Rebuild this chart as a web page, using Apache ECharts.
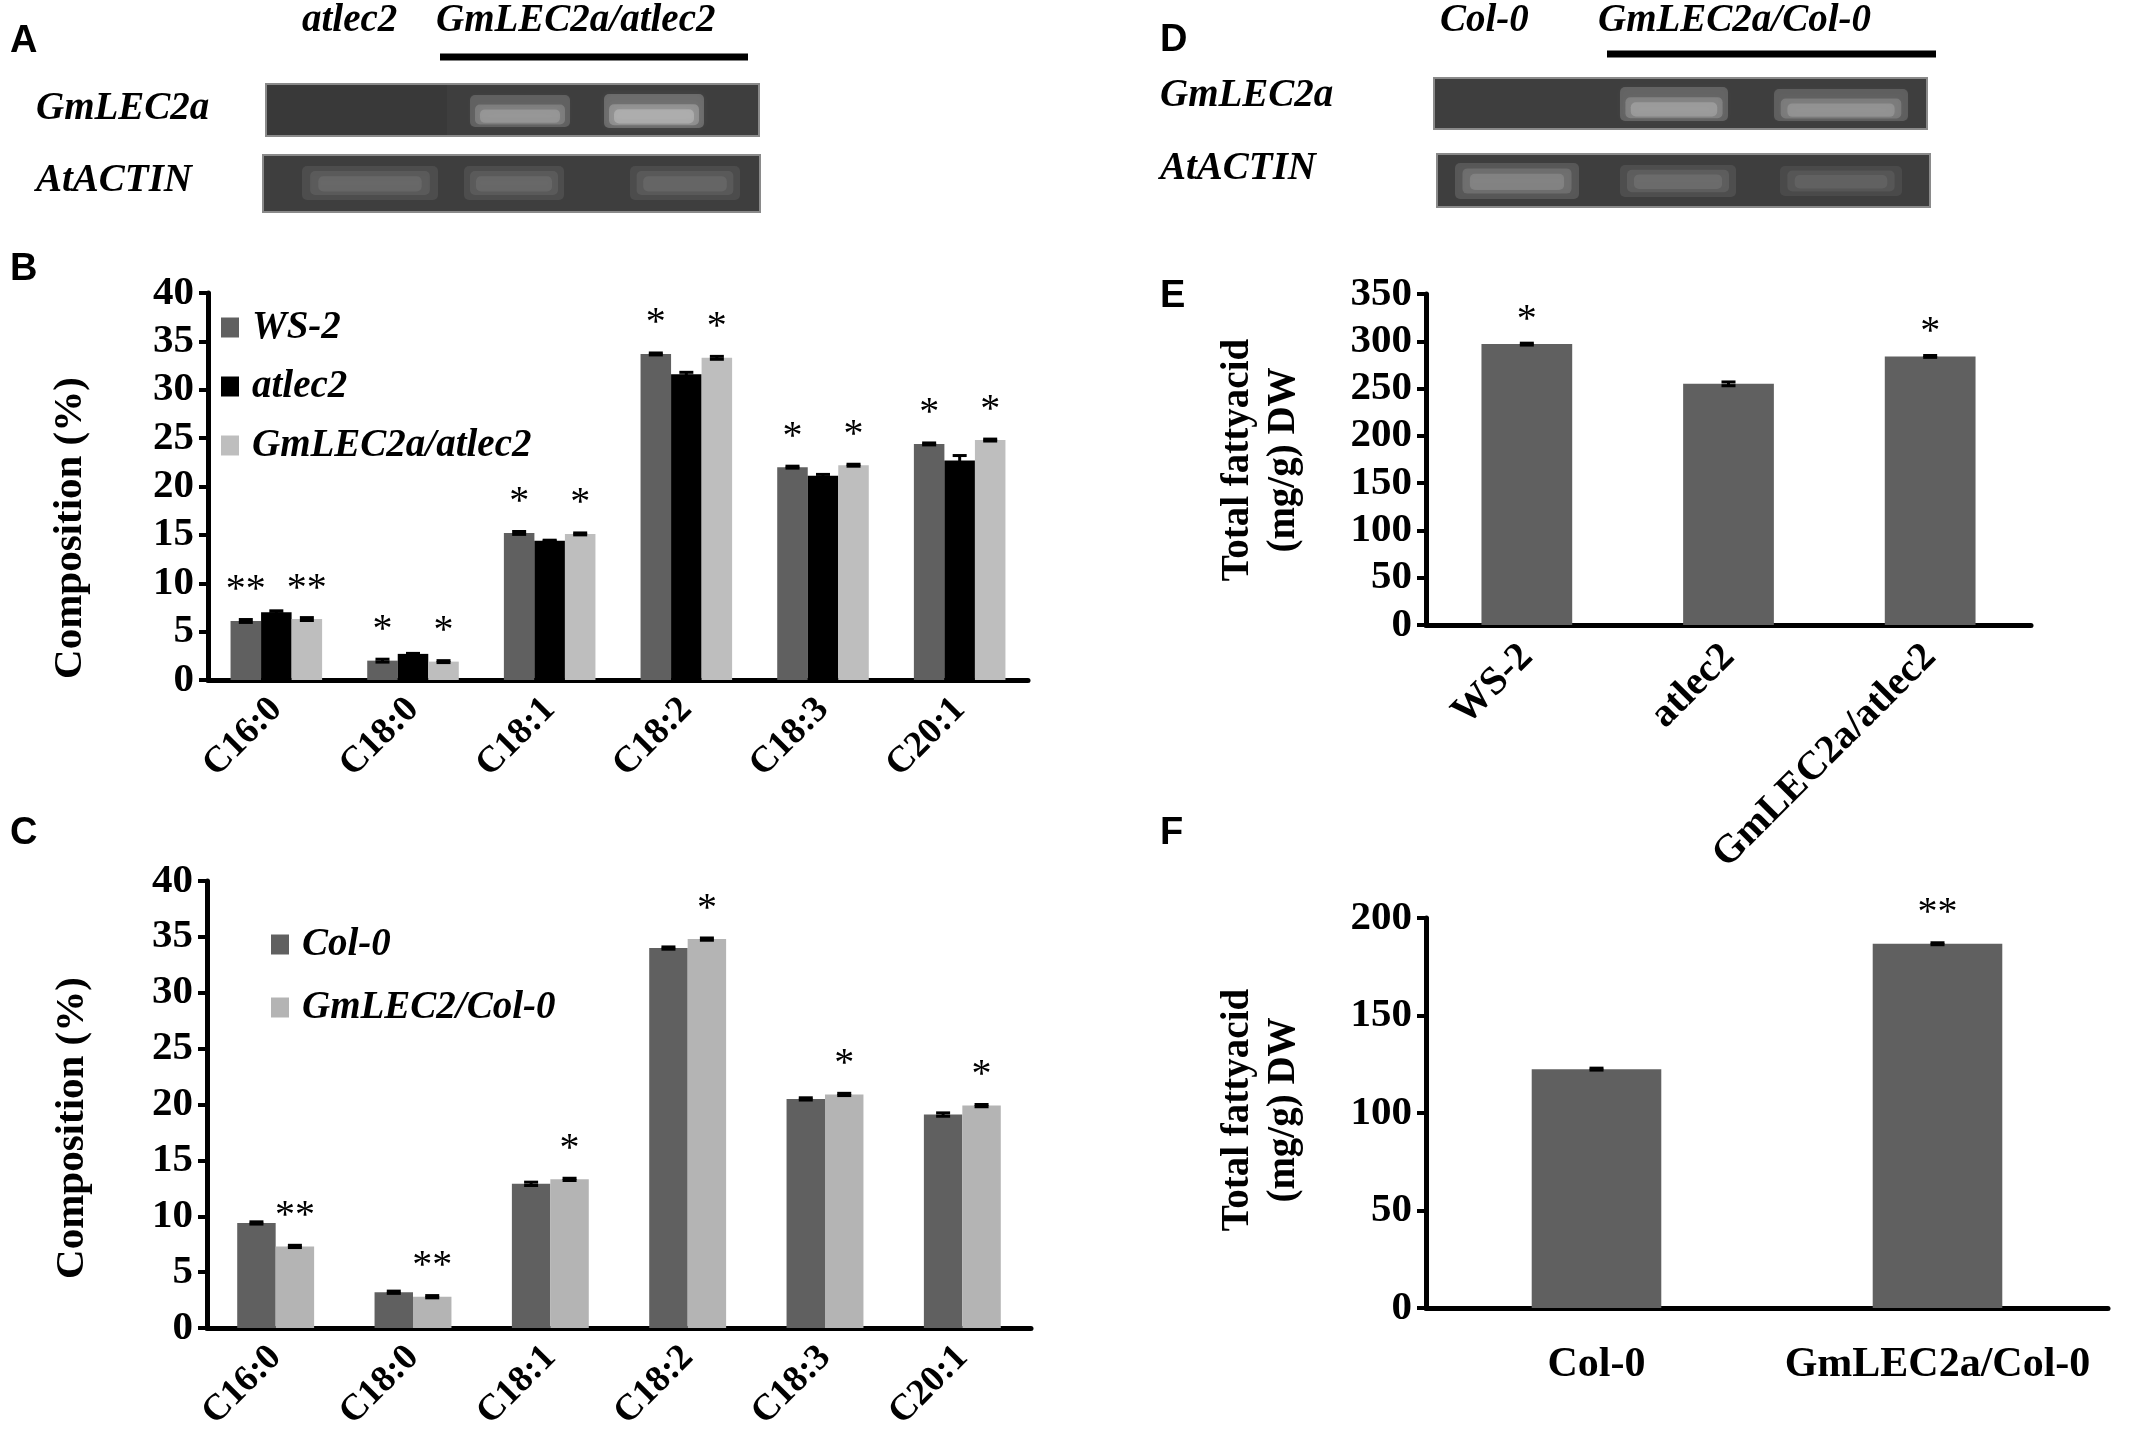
<!DOCTYPE html>
<html>
<head>
<meta charset="utf-8">
<script src="https://cdn.jsdelivr.net/npm/echarts@6/dist/echarts.min.js"></script>
<style>
html, body { margin: 0; padding: 0; background: #fff; }
#main { width: 2136px; height: 1454px; }
</style>
</head>
<body>
<div id="main"></div>
<script>
// ---- panel B: fatty acid composition, WS-2 background
var acids = ['C16:0', 'C18:0', 'C18:1', 'C18:2', 'C18:3', 'C20:1'];
var ws2 = [6.1, 2.0, 15.2, 33.7, 22.0, 24.4];
var ws2Err = [0.15, 0.15, 0.15, 0.1, 0.1, 0.1];
var atlec2 = [7.0, 2.7, 14.4, 31.6, 21.1, 22.7];
var atlec2Err = [0.15, 0.05, 0.05, 0.2, 0.15, 0.5];
var gmAtlec2 = [6.3, 1.9, 15.1, 33.3, 22.2, 24.8];
var gmAtlec2Err = [0.15, 0.1, 0.1, 0.15, 0.1, 0.1];
var sigB = ['**', '*', '*', '*', '*', '*'];

// ---- panel C: fatty acid composition, Col-0 background
var col0 = [9.4, 3.2, 12.9, 34.0, 20.5, 19.1];
var col0Err = [0.1, 0.1, 0.15, 0.1, 0.1, 0.15];
var gmCol0 = [7.3, 2.8, 13.3, 34.8, 20.9, 19.9];
var gmCol0Err = [0.1, 0.1, 0.1, 0.1, 0.1, 0.1];
var sigC = ['**', '**', '*', '*', '*', '*'];

// ---- panel E / F: total fatty acid
var linesE = ['WS-2', 'atlec2', 'GmLEC2a/atlec2'];
var totalE = [297, 255, 284];
var totalEErr = [1, 2, 1];
var sigE = ['*', '', '*'];
var linesF = ['Col-0', 'GmLEC2a/Col-0'];
var totalF = [122.5, 186.8];
var totalFErr = [0.5, 0.5];
var sigF = ['', '**'];

var SERIF = '"Liberation Serif", "Times New Roman", serif';
var SANS = '"Liberation Sans Narrow", "Liberation Sans", Arial, sans-serif';

var myChart = echarts.init(document.getElementById('main'));

function yAx(gi, max, step) {
    return {
        gridIndex: gi, type: 'value', min: 0, max: max, interval: step,
        axisLine: { show: true, lineStyle: { color: '#000', width: 5 } },
        axisTick: { show: true, length: 9, lineStyle: { color: '#000', width: 4 } },
        splitLine: { show: false },
        axisLabel: { color: '#000', fontFamily: SERIF, fontWeight: 'bold', fontSize: 41, margin: 14 }
    };
}

function xAx(gi, cats, rotate, size, margin) {
    return {
        gridIndex: gi, type: 'category', data: cats,
        axisLine: { lineStyle: { color: '#000', width: 5 } },
        axisTick: { length: 14, lineStyle: { color: '#000', width: 4 } },
        axisLabel: { color: '#000', fontFamily: SERIF, fontWeight: 'bold', fontSize: size,
            rotate: rotate, margin: margin, interval: 0 }
    };
}

function barS(name, gi, vals, color, marks, gap, dist) {
    return {
        name: name, type: 'bar', xAxisIndex: gi, yAxisIndex: gi,
        data: vals, barGap: '0%', barCategoryGap: (gap * 100) + '%',
        itemStyle: { color: color },
        label: {
            show: !!marks, position: 'top', distance: dist || 10,
            color: '#000', fontFamily: SERIF, fontSize: 40,
            formatter: function (p) { return marks ? marks[p.dataIndex] : ''; }
        }
    };
}

// error caps drawn on the bar of series idx out of n
function errS(gi, vals, errs, idx, n, gap) {
    return {
        type: 'custom', xAxisIndex: gi, yAxisIndex: gi, z: 5,
        data: vals.map(function (v, k) { return [k, v, errs[k]]; }),
        renderItem: function (params, api) {
            var k = api.value(0), v = api.value(1), e = api.value(2);
            var catW = api.size([1, 0])[0];
            var bw = catW * (1 - gap) / n;
            var cx = api.coord([k, v])[0] - catW * (1 - gap) / 2 + bw * (idx + 0.5);
            var yt = api.coord([k, v + e])[1];
            var yb = api.coord([k, v - e])[1];
            var hw = 7, st = { stroke: '#000', lineWidth: 3 };
            return {
                type: 'group', children: [
                    { type: 'line', shape: { x1: cx, y1: yt, x2: cx, y2: yb }, style: st },
                    { type: 'line', shape: { x1: cx - hw, y1: yt, x2: cx + hw, y2: yt }, style: st },
                    { type: 'line', shape: { x1: cx - hw, y1: yb, x2: cx + hw, y2: yb }, style: st }
                ]
            };
        }
    };
}

function txt(x, y, s, font, size, style) {
    return {
        type: 'text', x: x, y: y,
        style: { text: s, fill: '#000', fontFamily: font, fontSize: size,
            fontWeight: 'bold', fontStyle: style || 'normal',
            textAlign: 'left', textVerticalAlign: 'middle' }
    };
}

function vtxt(x, y, s, size) {
    return {
        type: 'text', x: x, y: y, rotation: Math.PI / 2,
        style: { text: s, fill: '#000', fontFamily: SERIF, fontSize: size, fontWeight: 'bold',
            textAlign: 'center', textVerticalAlign: 'middle', lineHeight: 46 }
    };
}

// soft band on a gel: three nested translucent layers, small blur so it stays in the box
function band(x, y, w, h, a, low) {
    var out = [];
    var layers = low ? [[0, 0, 1, 1], [0.06, 0.15, 0.88, 0.7], [0.12, 0.3, 0.76, 0.45]]
                     : [[0, 0, 1, 1], [0.05, 0.3, 0.9, 0.62], [0.1, 0.45, 0.8, 0.42]];
    layers.forEach(function (l) {
        var c = 'rgba(255,255,255,' + a + ')';
        out.push({ type: 'rect',
            shape: { x: x + w * l[0], y: y + h * l[1], width: w * l[2], height: h * l[3], r: 5 },
            style: { fill: c, shadowBlur: 8, shadowColor: c } });
    });
    return out;
}

function gelBox(x, y, w, h) {
    return { type: 'rect', shape: { x: x, y: y, width: w, height: h },
        style: { fill: '#3e3e3e', stroke: '#8a8a8a', lineWidth: 2 } };
}

var gap3 = 0.33, gap2 = 0.44, gapE = 0.55, gapF = 0.62;

var graphics = [
    // panel letters
    txt(10, 42, 'A', SANS, 38), txt(10, 270, 'B', SANS, 38), txt(10, 834, 'C', SANS, 38),
    txt(1160, 41, 'D', SANS, 38), txt(1160, 297, 'E', SANS, 38), txt(1160, 834, 'F', SANS, 38),
    // gel A
    txt(302, 21, 'atlec2', SERIF, 39, 'italic'),
    txt(436, 21, 'GmLEC2a/atlec2', SERIF, 39, 'italic'),
    { type: 'line', shape: { x1: 440, y1: 57, x2: 748, y2: 57 }, style: { stroke: '#000', lineWidth: 7 } },
    txt(36, 109, 'GmLEC2a', SERIF, 39, 'italic'),
    txt(36, 181, 'AtACTIN', SERIF, 39, 'italic'),
    gelBox(266, 84, 493, 52),
    { type: 'rect', shape: { x: 267, y: 85, width: 180, height: 50 }, style: { fill: '#393939' } },
    gelBox(263, 155, 497, 57),
    // gel D
    txt(1440, 21, 'Col-0', SERIF, 39, 'italic'),
    txt(1598, 21, 'GmLEC2a/Col-0', SERIF, 39, 'italic'),
    { type: 'line', shape: { x1: 1607, y1: 54, x2: 1936, y2: 54 }, style: { stroke: '#000', lineWidth: 7 } },
    txt(1160, 96, 'GmLEC2a', SERIF, 39, 'italic'),
    txt(1160, 169, 'AtACTIN', SERIF, 39, 'italic'),
    gelBox(1434, 78, 493, 51),
    gelBox(1437, 154, 493, 53),
    // y axis titles
    vtxt(70, 528, 'Composition (%)', 41),
    vtxt(72, 1128, 'Composition (%)', 41),
    vtxt(1261, 460, 'Total fattyacid\n(mg/g) DW', 39),
    vtxt(1261, 1110, 'Total fattyacid\n(mg/g) DW', 39)
];
graphics = graphics.concat(
    band(470, 95, 100, 32, 0.17), band(604, 94, 100, 34, 0.22),
    band(302, 166, 136, 34, 0.08, true), band(464, 166, 100, 34, 0.08, true), band(630, 166, 110, 34, 0.075, true),
    band(1620, 87, 108, 34, 0.18), band(1774, 89, 134, 32, 0.16),
    band(1455, 163, 124, 36, 0.13, true), band(1620, 165, 116, 32, 0.085, true), band(1780, 166, 122, 30, 0.065, true)
);

option = {
    backgroundColor: '#fff',
    animation: false,
    grid: [
        { left: 208, top: 293, width: 820, height: 387 },
        { left: 207, top: 881, width: 824, height: 447 },
        { left: 1426, top: 294, width: 605, height: 331 },
        { left: 1426, top: 918, width: 682, height: 390 }
    ],
    legend: [
        { data: ['WS-2', 'atlec2', 'GmLEC2a/atlec2'], orient: 'vertical', left: 216, top: 303,
            icon: 'rect', itemWidth: 18, itemHeight: 20, itemGap: 20,
            textStyle: { color: '#000', fontFamily: SERIF, fontSize: 39, fontWeight: 'bold',
                fontStyle: 'italic', padding: [0, 0, 0, 8] } },
        { data: ['Col-0', 'GmLEC2/Col-0'], orient: 'vertical', left: 266, top: 920,
            icon: 'rect', itemWidth: 18, itemHeight: 20, itemGap: 24,
            textStyle: { color: '#000', fontFamily: SERIF, fontSize: 39, fontWeight: 'bold',
                fontStyle: 'italic', padding: [0, 0, 0, 8] } }
    ],
    xAxis: [
        xAx(0, acids, 45, 37, 24),
        xAx(1, acids, 45, 37, 24),
        xAx(2, linesE, 45, 40, 26),
        xAx(3, linesF, 0, 42, 36)
    ],
    yAxis: [yAx(0, 40, 5), yAx(1, 40, 5), yAx(2, 350, 50), yAx(3, 200, 50)],
    graphic: graphics,
    series: [
        barS('WS-2', 0, ws2, '#606060', sigB, gap3),
        barS('atlec2', 0, atlec2, '#000000', null, gap3),
        barS('GmLEC2a/atlec2', 0, gmAtlec2, '#bebebe', sigB, gap3),
        errS(0, ws2, ws2Err, 0, 3, gap3),
        errS(0, atlec2, atlec2Err, 1, 3, gap3),
        errS(0, gmAtlec2, gmAtlec2Err, 2, 3, gap3),

        barS('Col-0', 1, col0, '#606060', null, gap2),
        barS('GmLEC2/Col-0', 1, gmCol0, '#b4b4b4', sigC, gap2),
        errS(1, col0, col0Err, 0, 2, gap2),
        errS(1, gmCol0, gmCol0Err, 1, 2, gap2),

        barS('Total E', 2, totalE, '#606060', sigE, gapE, 4),
        errS(2, totalE, totalEErr, 0, 1, gapE),

        barS('Total F', 3, totalF, '#606060', sigF, gapF, 10),
        errS(3, totalF, totalFErr, 0, 1, gapF)
    ]
};

myChart.setOption(option);
</script>
</body>
</html>
